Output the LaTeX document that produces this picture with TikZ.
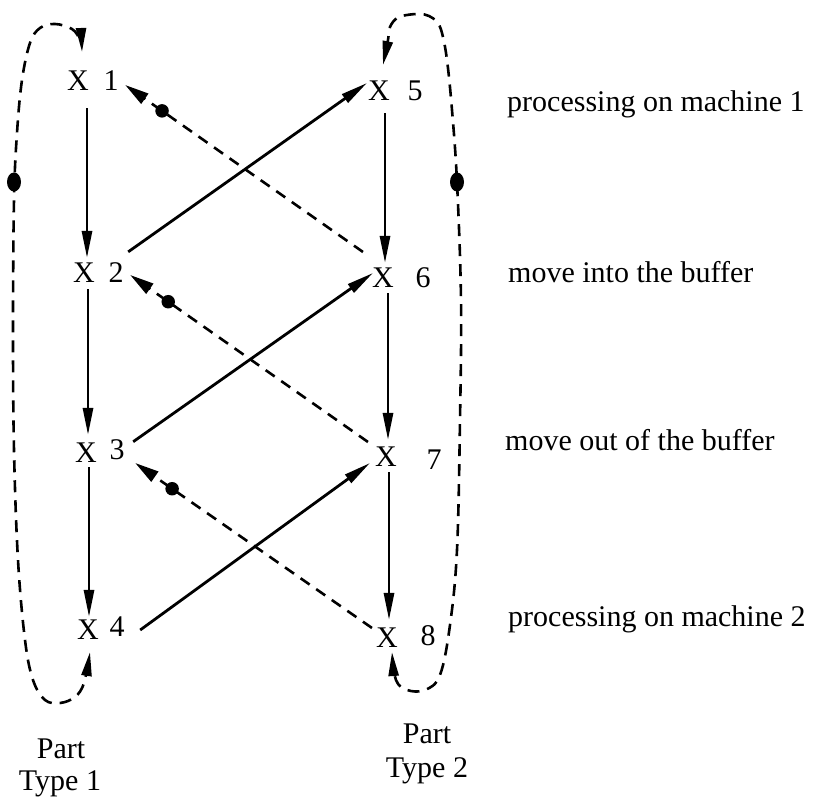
\documentclass[tikz,border=0pt]{standalone}
\usepackage{fontspec}
\setmainfont{Liberation Serif}
\usetikzlibrary{arrows.meta,shapes.geometric}
\begin{document}
\begin{tikzpicture}[x=1pt,y=-1pt,
  lbl/.style={font=\fontsize{30}{32}\selectfont, inner sep=0pt},
  solidarr/.style={line width=2.8pt, -{Triangle[length=27pt,width=10pt]}},
  dasharr/.style={line width=2.6pt, dash pattern=on 11pt off 8pt, -{Triangle[length=24pt,width=12pt]}},
  loopline/.style={line width=2.6pt, dash pattern=on 12pt off 8pt, {Triangle[length=24pt,width=10pt]}-{Triangle[length=24pt,width=10pt]}},
  token/.style={circle, fill=black, inner sep=0pt, minimum size=13.5pt},
  looptoken/.style={ellipse, fill=black, inner sep=0pt, minimum width=14pt, minimum height=19pt},
]
\useasboundingbox (0,0) rectangle (815,799);

% transitions of part type 1
\node[lbl] (x1) at (78,81) {X};
\node[lbl] (n1) at (111,81) {1};
\node[lbl] (x2) at (84,273) {X};
\node[lbl] (n2) at (116,273) {2};
\node[lbl] (x3) at (86,453) {X};
\node[lbl] (n3) at (117,450) {3};
\node[lbl] (x4) at (88,630) {X};
\node[lbl] (n4) at (117,627) {4};
% transitions of part type 2
\node[lbl] (x5) at (379,91) {X};
\node[lbl] (n5) at (415,91) {5};
\node[lbl] (x6) at (383,278) {X};
\node[lbl] (n6) at (423,278) {6};
\node[lbl] (x7) at (386,457) {X};
\node[lbl] (n7) at (434,460) {7};
\node[lbl] (x8) at (387,638) {X};
\node[lbl] (n8) at (428,636) {8};

% right labels
\node[lbl, anchor=base west] (l1) at (507,112) {processing on machine 1};
\node[lbl, anchor=base west] (l2) at (508,283) {move into the buffer};
\node[lbl, anchor=base west] (l3) at (505,451) {move out of the buffer};
\node[lbl, anchor=base west] (l4) at (508,627) {processing on machine 2};

% bottom labels
\node[lbl, anchor=base] (p1a) at (61,758) {Part};
\node[lbl, anchor=base] (p1b) at (60,790) {Type 1};
\node[lbl, anchor=base] (p2a) at (427,743) {Part};
\node[lbl, anchor=base] (p2b) at (427,778) {Type 2};

% vertical arrows
\draw[solidarr] ([xshift=9pt,yshift=-17pt]x1.south) -- ([xshift=3pt,yshift=5pt]x2.north);
\draw[solidarr] ([xshift=4pt,yshift=-6pt]x2.south) -- ([xshift=2pt,yshift=8pt]x3.north);
\draw[solidarr] ([xshift=3pt,yshift=-4pt]x3.south) -- ([xshift=1pt,yshift=3pt]x4.north);
\draw[solidarr] ([xshift=6pt,yshift=-12pt]x5.south) -- ([xshift=2pt,yshift=5pt]x6.north);
\draw[solidarr] ([xshift=5pt,yshift=-5pt]x6.south) -- ([xshift=2pt,yshift=7pt]x7.north);
\draw[solidarr] ([xshift=3pt,yshift=-5pt]x7.south) -- ([xshift=2pt,yshift=8pt]x8.north);

% diagonal solid arrows
\draw[solidarr] ([xshift=4.5pt,yshift=11pt]n2.north east) -- ([xshift=-1pt,yshift=8pt]x5.west);
\draw[solidarr] ([xshift=8.5pt,yshift=-2pt]n3.north east) -- ([xshift=1pt,yshift=5pt]x6.west);
\draw[solidarr] ([xshift=15.5pt,yshift=-3pt]n4.east) -- ([xshift=-5pt,yshift=-6pt]x7.west);

% dashed arrows with tokens
\draw[dasharr] ([xshift=-9pt,yshift=16pt]x6.north west) -- node[token, pos=0.845] (t1) {} ([xshift=6.5pt,yshift=-4pt]n1.east);
\draw[dasharr] ([xshift=-7pt,yshift=5pt]x7.north west) -- node[token, pos=0.84] (t2) {} ([xshift=6.5pt,yshift=-2pt]n2.east);
\draw[dasharr] ([xshift=-4pt,yshift=0pt]x8.north west) -- node[token, pos=0.844] (t3) {} ([xshift=10.5pt,yshift=-13pt]n3.east);

% loops
\draw[loopline] plot[smooth, tension=0.6] coordinates {([xshift=4pt,yshift=19pt]x1.north) (80,40) (72,29) (55,24) (40,28) (30,43) (22,80) (17,133) (14,200) (13,330) (14,450) (18,560) (25,640) (33,680) (45,700) (60,703) (75,697) (84,683) ([xshift=2pt,yshift=-12pt]x4.south)};
\node[looptoken] (t4) at (14,182) {};

\draw[loopline] plot[smooth, tension=0.6] coordinates {([xshift=4pt,yshift=16pt]x5.north) (388,40) (390,27) (397,18) (407,15) (420,14) (429,16) (437,22) (442,33) (447,60) (452,110) (457,182) (461,300) (460,420) (457,550) (450,625) (440,675) (425,690) (407,690) (396,680) ([xshift=5pt,yshift=-4pt]x8.south)};
\node[looptoken] (t5) at (457,182) {};
\end{tikzpicture}
\end{document}
